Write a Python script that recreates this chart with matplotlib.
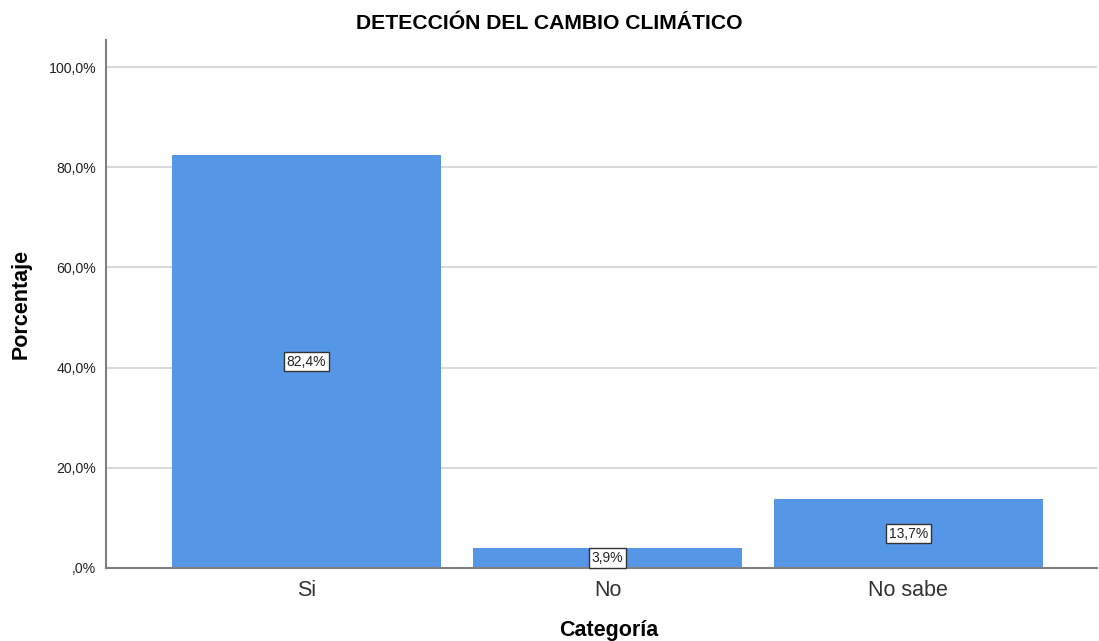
import matplotlib.pyplot as plt
from matplotlib.ticker import FuncFormatter

plt.rcParams['font.family'] = ['Liberation Sans', 'DejaVu Sans']

categorias = ['Si', 'No', 'No sabe']
porcentajes = [82.4, 3.9, 13.7]
etiquetas = ['82,4%', '3,9%', '13,7%']

fig = plt.figure(figsize=(10.99, 6.41), dpi=100)
ax = fig.add_axes([0.0965, 0.1139, 0.9015, 0.8237])

x = range(len(categorias))
ax.bar(x, porcentajes, width=0.894, color='#5596E6', zorder=2)

# etiquetas en el centro de cada barra
for xi, v, t in zip(x, porcentajes, etiquetas):
    ax.text(xi, v / 2, t, ha='center', va='center', fontsize=10, color='#222222', zorder=3,
            bbox=dict(boxstyle='square,pad=0.2', fc='white', ec='#333333', lw=1))

ax.set_xlim(-0.666, 2.626)
ax.set_ylim(0, 105.4)
ax.set_yticks([0, 20, 40, 60, 80, 100])

def fmt(v, pos):
    s = f'{v:.1f}'.replace('.', ',')
    if s.startswith('0'):
        s = s[1:]
    return s + '%'

ax.yaxis.set_major_formatter(FuncFormatter(fmt))
ax.set_xticks(list(x))
ax.set_xticklabels(categorias, fontsize=15.5, color='#333333')
ax.tick_params(axis='y', labelsize=10.2, length=0, pad=7, labelcolor='#222222')
ax.tick_params(axis='x', length=0, pad=9)

ax.grid(axis='y', color='#D9D9D9', linewidth=1.5, zorder=0)
for s in ['top', 'right']:
    ax.spines[s].set_visible(False)
for s in ['left', 'bottom']:
    ax.spines[s].set_color('#808080')
    ax.spines[s].set_linewidth(1.5)

ax.set_ylabel('Porcentaje', fontsize=15.5, fontweight='bold', labelpad=12)
ax.set_xlabel('Categoría', fontsize=15.5, fontweight='bold')
ax.xaxis.set_label_coords(0.5076, -0.099)
fig.suptitle('DETECCIÓN DEL CAMBIO CLIMÁTICO', fontsize=15.2, fontweight='bold', y=0.978)

fig.savefig('out.png', dpi=100)
